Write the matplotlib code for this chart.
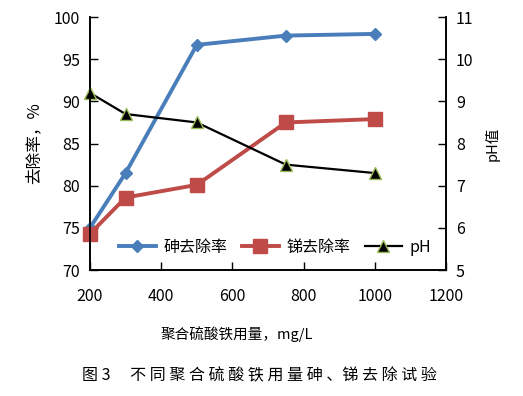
import matplotlib
matplotlib.use("Agg")
import matplotlib.pyplot as plt

plt.rcParams['font.family'] = ['Noto Sans CJK SC', 'DejaVu Sans']

dose = [200, 300, 500, 750, 1000]
as_rate = [75.0, 81.5, 96.7, 97.8, 98.0]
sb_rate = [74.3, 78.6, 80.1, 87.5, 87.9]
ph = [9.2, 8.7, 8.5, 7.5, 7.3]

fig = plt.figure(figsize=(5.23, 3.96), dpi=100)
ax = fig.add_axes([0.172, 0.318, 0.681, 0.639])
ax2 = ax.twinx()

l1, = ax.plot(dose, as_rate, color="#4A7EBB", lw=2.8, marker="D", ms=6,
              label="砷去除率", clip_on=False, zorder=3)
l2, = ax.plot(dose, sb_rate, color="#BE4B48", lw=2.8, marker="s", ms=10,
              label="锑去除率", clip_on=False, zorder=3)
l3, = ax2.plot(dose, ph, color="black", lw=1.6, marker="^", ms=8,
               markerfacecolor="black", markeredgecolor="#9BBB59", label="pH",
               clip_on=False)

ax.set_xlim(200, 1200)
ax.set_ylim(70, 100)
ax2.set_ylim(5, 11)
ax.set_xticks(range(200, 1201, 200))
ax.set_yticks(range(70, 101, 5))
ax2.set_yticks(range(5, 12))

for a in (ax, ax2):
    a.tick_params(direction="in", labelsize=11.5, length=6, width=1)
    for s in a.spines.values():
        s.set_linewidth(1.2)
ax.spines['top'].set_visible(False)
ax2.spines['top'].set_visible(False)
ax.tick_params(axis="x", pad=13)
ax.tick_params(axis="y", pad=7)
ax2.tick_params(axis="y", pad=7)

ax.set_ylabel("去除率，%", fontsize=12, labelpad=8)
ax2.set_ylabel("pH值", fontsize=10.5, labelpad=8)
ax.set_xlabel("聚合硫酸铁用量，mg/L", fontsize=10.5)
ax.xaxis.set_label_coords(0.413, -0.22)

ax2.legend(handles=[l1, l2, l3], loc="lower center", ncol=3, frameon=False,
           fontsize=11.5, bbox_to_anchor=(0.52, 0.0), handlelength=2.3,
           columnspacing=0.9, handletextpad=0.5)

fig.text(0.497, 0.04, "图 3　 不 同 聚 合 硫 酸 铁 用 量 砷 、锑 去 除 试 验",
         ha="center", fontsize=11.5)

fig.savefig("out.png", dpi=100)
